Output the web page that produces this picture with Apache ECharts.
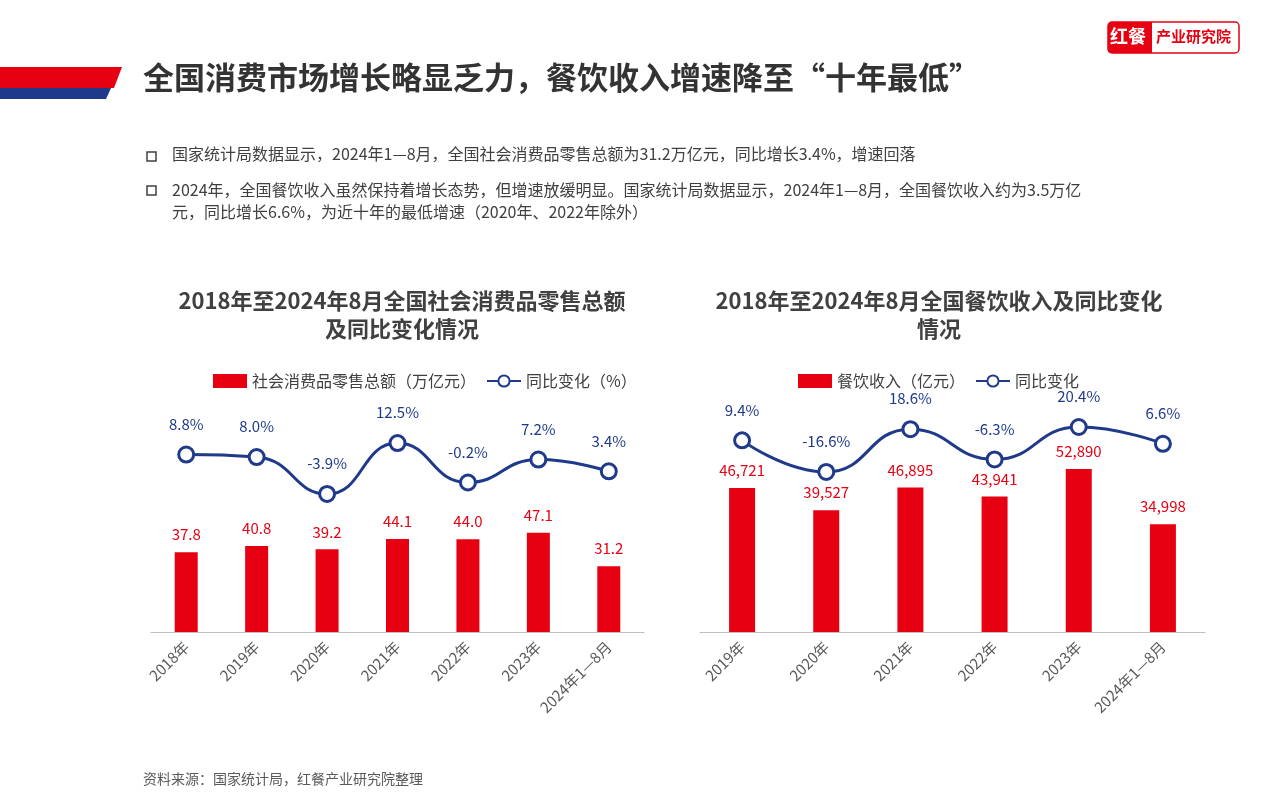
<!DOCTYPE html>
<html><head><meta charset="utf-8">
<script src="https://cdn.jsdelivr.net/npm/echarts@6/dist/echarts.min.js"></script>
<style>body{margin:0;background:#fff}#c{width:1280px;height:803px}</style></head>
<body><div id="c"></div>
<script>
const cats1 = ['2018年','2019年','2020年','2021年','2022年','2023年','2024年1—8月'];
const retail = [37.8,40.8,39.2,44.1,44.0,47.1,31.2];
const retailYoY = [8.8,8.0,-3.9,12.5,-0.2,7.2,3.4];
const cats2 = ['2019年','2020年','2021年','2022年','2023年','2024年1—8月'];
const catering = [46721,39527,46895,43941,52890,34998];
const cateringYoY = [9.4,-16.6,18.6,-6.3,20.4,6.6];

const F = '"Noto Sans CJK SC", sans-serif';
const RED = '#e60012', BLUE = '#1f3a8a';
const chart = echarts.init(document.getElementById('c'));
const xAx = (cats, gi) => ({type:'category', gridIndex:gi, data:cats,
  axisLine:{lineStyle:{color:'#bfbfbf'}}, axisTick:{show:false},
  axisLabel:{rotate:45, color:'#595959', fontSize:15, fontFamily:F, margin:12}});
const yAx = (gi,min,max) => ({type:'value', gridIndex:gi, min, max, show:false, splitLine:{show:false}});
const lineLbl = {show:true,position:'top',distance:14,color:BLUE,fontSize:15,formatter:p=>p.value.toFixed(1)+'%'};
chart.setOption({
  animation:false,
  textStyle:{fontFamily:F},
  title:[
    {text:'2018年至2024年8月全国社会消费品零售总额\n及同比变化情况', left:397, top:282, textAlign:'center',
     textStyle:{fontSize:22, fontWeight:'bold', color:'#404040', lineHeight:28, fontFamily:F}},
    {text:'2018年至2024年8月全国餐饮收入及同比变化\n情况', left:934, top:282, textAlign:'center',
     textStyle:{fontSize:22, fontWeight:'bold', color:'#404040', lineHeight:28, fontFamily:F}}
  ],
  legend:[
    {left:208, top:368, itemGap:10, itemWidth:34, itemHeight:14, textStyle:{fontSize:16,color:'#404040',fontFamily:F},
     data:[{name:'社会消费品零售总额（万亿元）',icon:'rect'},{name:'同比变化（%）'}]},
    {left:793, top:368, itemGap:10, itemWidth:34, itemHeight:14, textStyle:{fontSize:16,color:'#404040',fontFamily:F},
     data:[{name:'餐饮收入（亿元）',icon:'rect'},{name:'同比变化'}]}
  ],
  grid:[{left:151,width:493,top:400,height:232},{left:700,width:505,top:400,height:232}],
  xAxis:[xAx(cats1,0),xAx(cats2,1)],
  yAxis:[yAx(0,0,110),yAx(0,-48.4,26.4),yAx(1,0,75300),yAx(1,-148.2,42.6)],
  series:[
    {name:'社会消费品零售总额（万亿元）',type:'bar',xAxisIndex:0,yAxisIndex:0,data:retail,barWidth:23,itemStyle:{color:RED},
     label:{show:true,position:'top',color:RED,fontSize:15,distance:10,formatter:p=>p.value.toFixed(1)}},
    {name:'同比变化（%）',type:'line',smooth:true,xAxisIndex:0,yAxisIndex:1,data:retailYoY,symbol:'circle',symbolSize:15,
     lineStyle:{color:BLUE,width:3},itemStyle:{color:'#fff',borderColor:BLUE,borderWidth:3},label:lineLbl},
    {name:'餐饮收入（亿元）',type:'bar',xAxisIndex:1,yAxisIndex:2,data:catering,barWidth:26,itemStyle:{color:RED},
     label:{show:true,position:'top',color:RED,fontSize:15,distance:10,formatter:p=>p.value.toLocaleString('en-US')}},
    {name:'同比变化',type:'line',smooth:true,xAxisIndex:1,yAxisIndex:3,data:cateringYoY,symbol:'circle',symbolSize:15,
     lineStyle:{color:BLUE,width:3},itemStyle:{color:'#fff',borderColor:BLUE,borderWidth:3},label:lineLbl}
  ],
  graphic:[
    {type:'polygon',shape:{points:[[0,86],[112,86],[106,99],[0,99]]},style:{fill:'#1f3a8a'}},
    {type:'polygon',shape:{points:[[0,67],[122,67],[114,88],[0,88]]},style:{fill:RED}},
    {type:'text',left:143,top:62,style:{text:'全国消费市场增长略显乏力，餐饮收入增速降至“十年最低”',fontSize:31,fontWeight:'bold',fill:'#333',fontFamily:F,letterSpacing:2}},
    {type:'rect',shape:{x:1108,y:22,width:131,height:31,r:4},style:{fill:'#fff',stroke:RED,lineWidth:1.5}},
    {type:'rect',shape:{x:1108,y:22,width:44,height:31,r:[4,0,0,4]},style:{fill:RED}},
    {type:'text',left:1110,top:27,style:{text:'红餐',fontSize:18,fontWeight:'bold',fill:'#fff',fontFamily:F}},
    {type:'text',left:1156,top:29,style:{text:'产业研究院',fontSize:15,fontWeight:'bold',fill:RED,fontFamily:F}},
    {type:'rect',shape:{x:147,y:152,width:9,height:9},style:{fill:'none',stroke:'#404040',lineWidth:1.5}},
    {type:'text',left:172,top:146,style:{text:'国家统计局数据显示，2024年1—8月，全国社会消费品零售总额为31.2万亿元，同比增长3.4%，增速回落',fontSize:16,fill:'#404040',fontFamily:F}},
    {type:'rect',shape:{x:147,y:186,width:9,height:9},style:{fill:'none',stroke:'#404040',lineWidth:1.5}},
    {type:'text',left:172,top:179,style:{text:'2024年，全国餐饮收入虽然保持着增长态势，但增速放缓明显。国家统计局数据显示，2024年1—8月，全国餐饮收入约为3.5万亿\n元，同比增长6.6%，为近十年的最低增速（2020年、2022年除外）',fontSize:16,lineHeight:22,fill:'#404040',fontFamily:F}},
    {type:'text',left:143,top:772,style:{text:'资料来源：国家统计局，红餐产业研究院整理',fontSize:14,fill:'#595959',fontFamily:F}}
  ]
});
</script></body></html>
